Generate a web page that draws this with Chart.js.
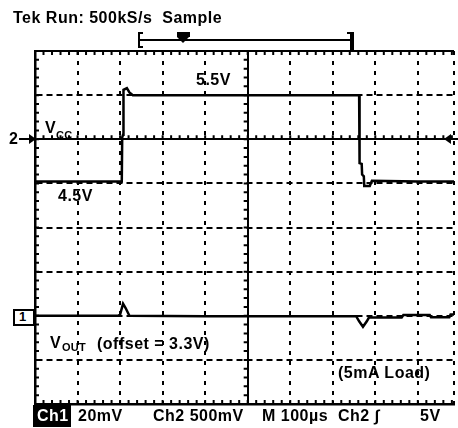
<!DOCTYPE html>
<html><head><meta charset="utf-8">
<script src="https://cdn.jsdelivr.net/npm/chart.js@4/dist/chart.umd.min.js"></script>
<style>
html,body{margin:0;padding:0;background:#fff;overflow:hidden;}
#wrap{position:relative;width:458px;height:428px;overflow:hidden;}
canvas{position:absolute;left:0;top:0;}
.t{position:absolute;font-family:"Liberation Sans",Arial,sans-serif;font-weight:bold;font-size:16px;line-height:16px;letter-spacing:0.5px;color:#000;white-space:pre;}
.s{position:absolute;font-family:"Liberation Sans",Arial,sans-serif;font-weight:bold;font-size:11px;line-height:11px;letter-spacing:0.3px;color:#000;white-space:pre;}
.d{position:absolute;background:#000;}
</style>
</head><body>
<div id="wrap">
<canvas id="c" width="458" height="428"></canvas>

<div class="t" style="left:13px;top:10px;">Tek Run: 500kS/s  Sample</div>

<!-- record bar -->
<div class="d" style="left:138px;top:32px;width:2px;height:16px;"></div>
<div class="d" style="left:138px;top:32px;width:5px;height:2px;"></div>
<div class="d" style="left:138px;top:46px;width:5px;height:2px;"></div>
<div class="d" style="left:140px;top:39px;width:212px;height:2px;"></div>
<div class="d" style="left:177px;top:32px;width:13px;height:5px;"></div>
<div style="position:absolute;left:177px;top:37px;width:0;height:0;border-left:6.5px solid transparent;border-right:6.5px solid transparent;border-top:6px solid #000;"></div>
<div class="d" style="left:350px;top:32px;width:4px;height:19px;"></div>
<div class="d" style="left:347px;top:32px;width:5px;height:2px;"></div>

<!-- channel markers -->
<div class="t" style="left:9px;top:131px;">2</div>
<div class="d" style="left:19px;top:138px;width:12px;height:2px;"></div>
<div style="position:absolute;left:29px;top:134px;width:0;height:0;border-top:5px solid transparent;border-bottom:5px solid transparent;border-left:7px solid #000;"></div>

<div style="position:absolute;left:13px;top:309px;width:18px;height:13px;border:2px solid #000;background:#fff;"></div>
<div class="t" style="left:19px;top:309px;font-size:13px;line-height:15px;">1</div>

<div style="position:absolute;left:444px;top:134px;width:0;height:0;border-top:5px solid transparent;border-bottom:5px solid transparent;border-right:7px solid #000;"></div>
<div class="d" style="left:450px;top:138px;width:8px;height:2px;"></div>

<!-- labels -->
<div class="t" style="left:196px;top:72px;">5.5V</div>
<div class="t" style="left:45px;top:120px;">V</div>
<div class="s" style="left:56px;top:130px;">CC</div>
<div class="t" style="left:58px;top:188px;">4.5V</div>
<div class="t" style="left:50px;top:335px;">V</div>
<div class="s" style="left:62px;top:342px;">OUT</div>
<div class="t" style="left:97px;top:336px;">(offset = 3.3V)</div>
<div class="t" style="left:338px;top:365px;">(5mA Load)</div>

<!-- bottom status line -->
<div class="d" style="left:33px;top:405px;width:38px;height:22px;"></div>
<div class="t" style="left:37px;top:408px;color:#fff;">Ch1</div>
<div class="t" style="left:78px;top:408px;">20mV</div>
<div class="t" style="left:153px;top:408px;">Ch2 500mV</div>
<div class="t" style="left:262px;top:408px;">M 100µs</div>
<div class="t" style="left:338px;top:408px;">Ch2 ∫</div>
<div class="t" style="left:420px;top:408px;">5V</div>
</div>

<script>
// ---- data ----
// Channel 2 : V_CC (volts) vs time (µs)
const CH2_TIME_US = [0, 204, 205, 207, 208, 216, 222, 230, 500, 762, 763, 768, 769, 773, 774, 787, 792, 900, 985];
const CH2_VCC_V   = [4.52, 4.52, 5.02, 5.05, 5.56, 5.58, 5.53, 5.50, 5.50, 5.50, 4.73, 4.72, 4.60, 4.58, 4.47, 4.47, 4.53, 4.52, 4.52];
// Channel 1 : V_OUT deviation from 3.3V offset (mV) vs time (µs)
const CH1_TIME_US = [0, 195, 200, 207, 213, 222, 400, 755, 762, 771, 780, 785, 862, 866, 928, 931, 974, 977, 985];
const CH1_VOUT_MV = [0, 0, 0.5, 5.5, 3.5, 0, -0.2, -0.2, -2.5, -5.0, -2.5, -0.8, -0.8, 0.3, 0.3, -0.7, -0.7, 0.6, 0.6];
// graticule
const X_GRID_US = [0, 100, 200, 300, 400, 500, 600, 700, 800, 900, 985];
const Y_GRID_CH2_V = [2, 2.5, 3, 3.5, 4, 4.5, 5, 5.5, 6];
const X_CENTER_US = 500, Y_CENTER_V = 5;
const X_MINOR_US = 20, Y_MINOR_V = 0.1;
const CH1_RANGE_MV = [-40, 120];

const graticule = {
  id: 'graticule',
  beforeDatasetsDraw(chart) {
    const {ctx, chartArea: a, scales: {x, y}} = chart;
    const xc = x.getPixelForValue(X_CENTER_US), yc = y.getPixelForValue(Y_CENTER_V);
    ctx.save();
    ctx.strokeStyle = '#000';
    ctx.lineWidth = 2;
    ctx.beginPath();
    for (let t = 0; t <= x.max + 0.001; t += X_MINOR_US) {
      const px = x.getPixelForValue(t);
      ctx.moveTo(px, a.top); ctx.lineTo(px, a.top + 4);
      ctx.moveTo(px, a.bottom); ctx.lineTo(px, a.bottom - 4);
      ctx.moveTo(px, yc); ctx.lineTo(px, yc - 4);
    }
    for (let v = y.min; v <= y.max + 0.001; v += Y_MINOR_V) {
      const py = y.getPixelForValue(v);
      ctx.moveTo(a.left, py); ctx.lineTo(a.left + 4, py);
      ctx.moveTo(xc, py); ctx.lineTo(xc - 4, py);
    }
    ctx.stroke();
    ctx.restore();
  }
};

new Chart(document.getElementById('c'), {
  type: 'line',
  data: {
    datasets: [
      { label: 'VCC', yAxisID: 'y',
        data: CH2_TIME_US.map((t, i) => ({x: t, y: CH2_VCC_V[i]})),
        borderColor: '#000', borderWidth: 2.5, pointRadius: 0, tension: 0, fill: false },
      { label: 'VOUT', yAxisID: 'y1',
        data: CH1_TIME_US.map((t, i) => ({x: t, y: CH1_VOUT_MV[i]})),
        borderColor: '#000', borderWidth: 2.5, pointRadius: 0, tension: 0, fill: false }
    ]
  },
  options: {
    responsive: false, animation: false, devicePixelRatio: 1,
    layout: { padding: { left: 35, top: 51, right: 4, bottom: 24 } },
    plugins: { legend: { display: false }, tooltip: { enabled: false }, title: { display: false } },
    scales: {
      x: {
        type: 'linear', min: 0, max: X_GRID_US[X_GRID_US.length - 1],
        afterBuildTicks: s => { s.ticks = X_GRID_US.map(v => ({value: v})); },
        afterFit: s => { s.height = 0; },
        ticks: { display: false },
        grid: { color: '#000', lineWidth: 2, drawTicks: false },
        border: { display: true, color: '#000', width: 2.5,
          dash: c => (c.tick && (c.tick.value === X_CENTER_US || c.tick.value === 0)) ? [] : [4, 6] }
      },
      y: {
        type: 'linear', min: Y_GRID_CH2_V[0], max: Y_GRID_CH2_V[Y_GRID_CH2_V.length - 1],
        afterBuildTicks: s => { s.ticks = Y_GRID_CH2_V.map(v => ({value: v})); },
        afterFit: s => { s.width = 0; },
        ticks: { display: false },
        grid: { color: '#000', lineWidth: 2, drawTicks: false },
        border: { display: true, color: '#000', width: 2.5,
          dash: c => (c.tick && (c.tick.value === Y_CENTER_V || c.tick.value === 6 || c.tick.value === 2)) ? [] : [6, 4] }
      },
      y1: { type: 'linear', display: false, min: CH1_RANGE_MV[0], max: CH1_RANGE_MV[1] }
    }
  },
  plugins: [graticule]
});
</script>
</body></html>
